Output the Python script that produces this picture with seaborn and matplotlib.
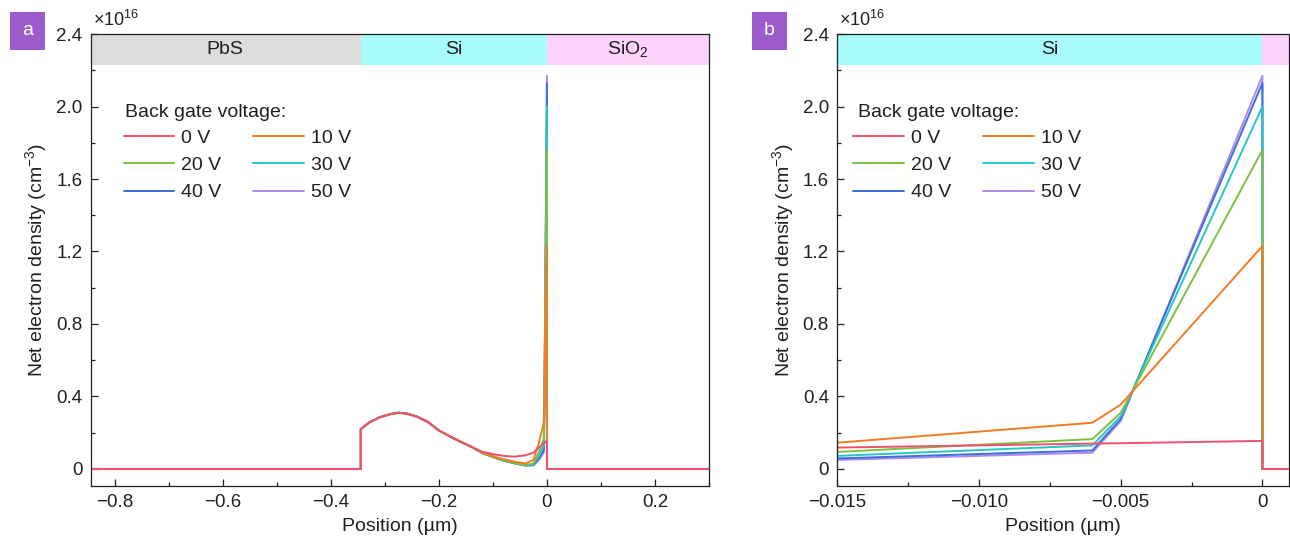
import matplotlib
matplotlib.use('Agg')
import matplotlib.pyplot as plt
from matplotlib.patches import Rectangle
from matplotlib.ticker import MultipleLocator, FuncFormatter
import pandas as pd
import seaborn as sns

# Data (net electron density in units of 1e16 cm^-3, position in um)
# ==============================================================================
voltages = ['0 V', '10 V', '20 V', '30 V', '40 V', '50 V']
colors = ['#f0506e', '#f47b20', '#7cc142', '#26c6c6', '#3b6fdc', '#b08ae6']

# PbS + Si bulk, same for every gate voltage
x_hump = [-0.85, -0.345, -0.345, -0.33, -0.31, -0.29, -0.275, -0.26, -0.24,
          -0.22, -0.2, -0.18, -0.16, -0.14]
y_hump = [0, 0, 0.22, 0.255, 0.285, 0.303, 0.31, 0.306, 0.288, 0.258,
          0.212, 0.18, 0.15, 0.122]

# depletion dip before the Si/SiO2 interface
x_dip = [-0.12, -0.1, -0.08, -0.06, -0.04, -0.025]
y_dip = {
    '0 V':  [0.095, 0.082, 0.072, 0.068, 0.075, 0.09],
    '10 V': [0.09, 0.07, 0.053, 0.04, 0.03, 0.05],
    '20 V': [0.088, 0.067, 0.048, 0.033, 0.022, 0.03],
    '30 V': [0.088, 0.066, 0.047, 0.032, 0.02, 0.025],
    '40 V': [0.088, 0.066, 0.046, 0.031, 0.019, 0.022],
    '50 V': [0.088, 0.066, 0.046, 0.031, 0.019, 0.02],
}

# accumulation layer at the interface (panel b)
x_edge = [-0.015, -0.006, -0.005, 0.0]
y_edge = {
    '0 V':  [0.118, 0.14, 0.142, 0.155],
    '10 V': [0.145, 0.255, 0.355, 1.23],
    '20 V': [0.094, 0.165, 0.31, 1.76],
    '30 V': [0.072, 0.13, 0.29, 2.0],
    '40 V': [0.058, 0.102, 0.275, 2.13],
    '50 V': [0.05, 0.09, 0.265, 2.17],
}

# SiO2
x_oxide = [0.0, 0.3]
y_oxide = [0, 0]

# material bands on top of each panel
band_names = ['PbS', 'Si', 'SiO$_2$']
band_edges = [-0.85, -0.345, 0.0, 0.3]
band_colors = ['#dcdcdc', '#a8fbfb', '#fdd2fc']

# Configuración
# ==============================================================================
sns.set_style('ticks')
plt.rcParams['font.family'] = ['Liberation Sans', 'DejaVu Sans']
plt.rcParams['mathtext.fontset'] = 'custom'
plt.rcParams['mathtext.rm'] = 'Liberation Sans'
plt.rcParams['mathtext.it'] = 'Liberation Sans:italic'
plt.rcParams['axes.unicode_minus'] = True
txt_color = '#231f20'
FS = 14

frames = []
for v in voltages:
    xs = x_hump + x_dip + x_edge + x_oxide
    ys = y_hump + y_dip[v] + y_edge[v] + y_oxide
    frames.append(pd.DataFrame({'pos': xs, 'n': ys, 'volt': v}))
datos = pd.concat(frames, ignore_index=True)

fig = plt.figure(figsize=(12.9, 5.4), dpi=100)
ax_a = fig.add_axes([0.0705, 0.1, 0.479, 0.837])
ax_b = fig.add_axes([0.649, 0.1, 0.3505, 0.837])


def fmt(v, pos):
    if abs(v) < 1e-12:
        return '0'
    s = ('%.3f' % v) if abs(v) < 0.05 else ('%.1f' % v)
    return s.replace('-', '\u2212')


def draw(ax, xlim, bands, xmaj, xmin_, leg_x, title_x):
    # bands
    for (x0, x1, c, name) in bands:
        ax.add_patch(Rectangle((x0, 2.23), x1 - x0, 0.17, color=c, lw=0, zorder=0))
        if name:
            ax.text((x0 + x1) / 2, 2.315, name, ha='center', va='center',
                    fontsize=FS, color=txt_color)
    # lines (0 V on top)
    for v, c in reversed(list(zip(voltages, colors))):
        d = datos[datos['volt'] == v]
        sns.lineplot(data=d, x='pos', y='n', sort=False, estimator=None,
                     color=c, lw=1.4, label=v, ax=ax)
    ax.set_xlim(*xlim)
    ax.set_ylim(-0.094, 2.4)
    ax.xaxis.set_major_locator(MultipleLocator(xmaj))
    ax.xaxis.set_minor_locator(MultipleLocator(xmin_))
    ax.yaxis.set_major_locator(MultipleLocator(0.4))
    ax.yaxis.set_minor_locator(MultipleLocator(0.2))
    ax.xaxis.set_major_formatter(FuncFormatter(fmt))
    ax.yaxis.set_major_formatter(FuncFormatter(fmt))
    ax.tick_params(which='both', direction='in', labelsize=13.5, colors=txt_color,
                   labelcolor=txt_color, width=0.9)
    ax.tick_params(which='major', length=5, pad=6)
    ax.tick_params(which='minor', length=3)
    for s in ax.spines.values():
        s.set_color(txt_color)
        s.set_linewidth(0.9)
    ax.set_xlabel('Position (\u00b5m)', fontsize=FS, color=txt_color, labelpad=5)
    ax.set_ylabel('Net electron density (cm$^{-3}$)', fontsize=FS,
                  color=txt_color, labelpad=5)
    ax.text(0.003, 1.01, '\u00d710$^{16}$', transform=ax.transAxes,
            fontsize=13, color=txt_color, ha='left', va='bottom')
    # legend title as plain text, legend rows 0/10, 20/30, 40/50
    ax.text(title_x, (486 - 112) / 452, 'Back gate voltage:', transform=ax.transAxes,
            fontsize=FS, color=txt_color, ha='left', va='center')
    handles, labels = ax.get_legend_handles_labels()
    hmap = dict(zip(labels, handles))
    order = ['0 V', '20 V', '40 V', '10 V', '30 V', '50 V']
    leg = ax.legend([hmap[k] for k in order], order,
                    ncol=2, frameon=False, loc='upper left',
                    bbox_to_anchor=(leg_x, 0.811), fontsize=FS,
                    handlelength=2.6, handletextpad=0.38, columnspacing=1.62,
                    labelspacing=0.5, borderpad=0)
    for t in leg.get_texts():
        t.set_color(txt_color)


bands_a = [(band_edges[i], band_edges[i + 1], band_colors[i], band_names[i]) for i in range(3)]
draw(ax_a, (-0.845, 0.3), bands_a, 0.2, 0.1, 0.037, 0.055)

bands_b = [(-0.015, 0.0, band_colors[1], 'Si'), (0.0, 0.001, band_colors[2], '')]
draw(ax_b, (-0.015, 0.00095), bands_b, 0.005, 0.0025, 0.014, 0.045)

# panel tags
for xl, lab in [(10, 'a'), (752, 'b')]:
    fig.patches.append(Rectangle((xl / 1290, 1 - 50 / 540), 35 / 1290, 38 / 540,
                                 transform=fig.transFigure, color='#9b5bcb', lw=0))
    fig.text((xl + 17.5) / 1290, 1 - 31 / 540, lab, ha='center', va='center',
             color='white', fontsize=14)

plt.savefig('out.png', dpi=100)
